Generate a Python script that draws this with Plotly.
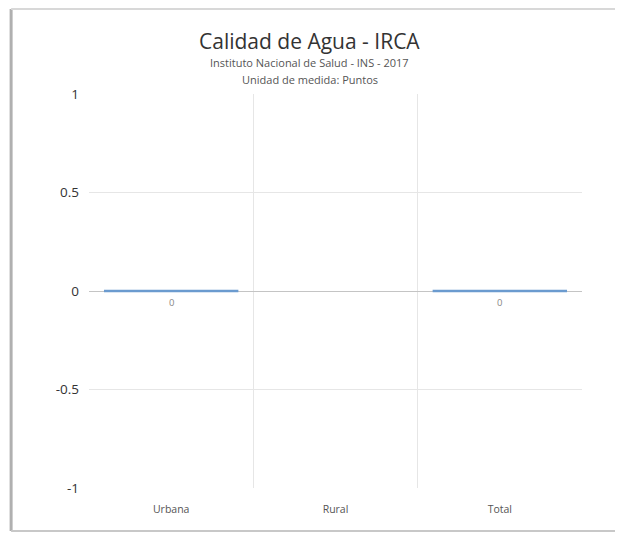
import plotly.graph_objects as go

categories = ["Urbana", "Rural", "Total"]
values = [0, None, 0]
value_labels = ["0", "", "0"]
y_tickvals = [1, 0.5, 0, -0.5, -1]
y_ticktext = ["1", "0.5", "0", "-0.5", "-1"]

title = "Calidad de Agua - IRCA"
subtitle1 = "Instituto Nacional de Salud - INS - 2017"
subtitle2 = "Unidad de medida: Puntos"

FONT = "Open Sans"

fig = go.Figure()

# zero-height bars drawn as thin horizontal marks at the value
fig.add_trace(go.Scatter(
    x=categories, y=values, mode="markers",
    marker=dict(symbol="line-ew", size=96,
                line=dict(color="#6b9bcf", width=2.5)),
    hoverinfo="x+y", showlegend=False,
))

label_annotations = [
    dict(x=c, y=v, xref="x", yref="y", text=t, showarrow=False,
         yanchor="top", yshift=-3,
         font=dict(family=FONT, size=9.5, color="#888888"))
    for c, v, t in zip(categories, values, value_labels) if v is not None
]

fig.update_layout(
    width=615, height=525,
    margin=dict(l=81, r=41, t=86, b=45),
    paper_bgcolor="white", plot_bgcolor="white",
    font=dict(family=FONT, color="#333333"),
    showlegend=False,
    xaxis=dict(
        type="category", range=[-0.5, 2.5], automargin=False,
        tickson="boundaries", showgrid=True, gridcolor="#e6e6e6", gridwidth=1,
        ticks="", showline=False, zeroline=False,
        tickfont=dict(family=FONT, size=10.5, color="#555555"),
        ticklabelstandoff=13,
    ),
    yaxis=dict(
        range=[-1, 1], tickvals=y_tickvals, ticktext=y_ticktext, automargin=False,
        showgrid=True, gridcolor="#e6e6e6", gridwidth=1,
        zeroline=True, zerolinecolor="#c4c4c4", zerolinewidth=1,
        ticks="", showline=False,
        tickfont=dict(family=FONT, size=13.5, color="#333333"),
        ticklabelstandoff=9,
    ),
    annotations=[
        dict(text=title, x=0.448, y=1.135, xref="paper", yref="paper",
             xanchor="center", yanchor="middle",
             showarrow=False, font=dict(family=FONT, size=21, color="#333333")),
        dict(text=subtitle1, x=0.448, y=1.079, xref="paper", yref="paper",
             xanchor="center", yanchor="middle",
             showarrow=False, font=dict(family=FONT, size=11, color="#555555")),
        dict(text=subtitle2, x=0.448, y=1.036, xref="paper", yref="paper",
             xanchor="center", yanchor="middle",
             showarrow=False, font=dict(family=FONT, size=11, color="#555555")),
    ] + label_annotations,
    shapes=[
        dict(type="line", xref="paper", yref="paper", x0=-0.158, x1=-0.158,
             y0=-0.109, y1=1.216, line=dict(color="#b0b0b0", width=3)),
        dict(type="line", xref="paper", yref="paper", x0=-0.158, x1=1.2,
             y0=1.216, y1=1.216, line=dict(color="#d8d8d8", width=2)),
        dict(type="line", xref="paper", yref="paper", x0=-0.158, x1=1.2,
             y0=-0.109, y1=-0.109, line=dict(color="#c8c8c8", width=2)),
    ],
)

fig.write_html("out.html")
